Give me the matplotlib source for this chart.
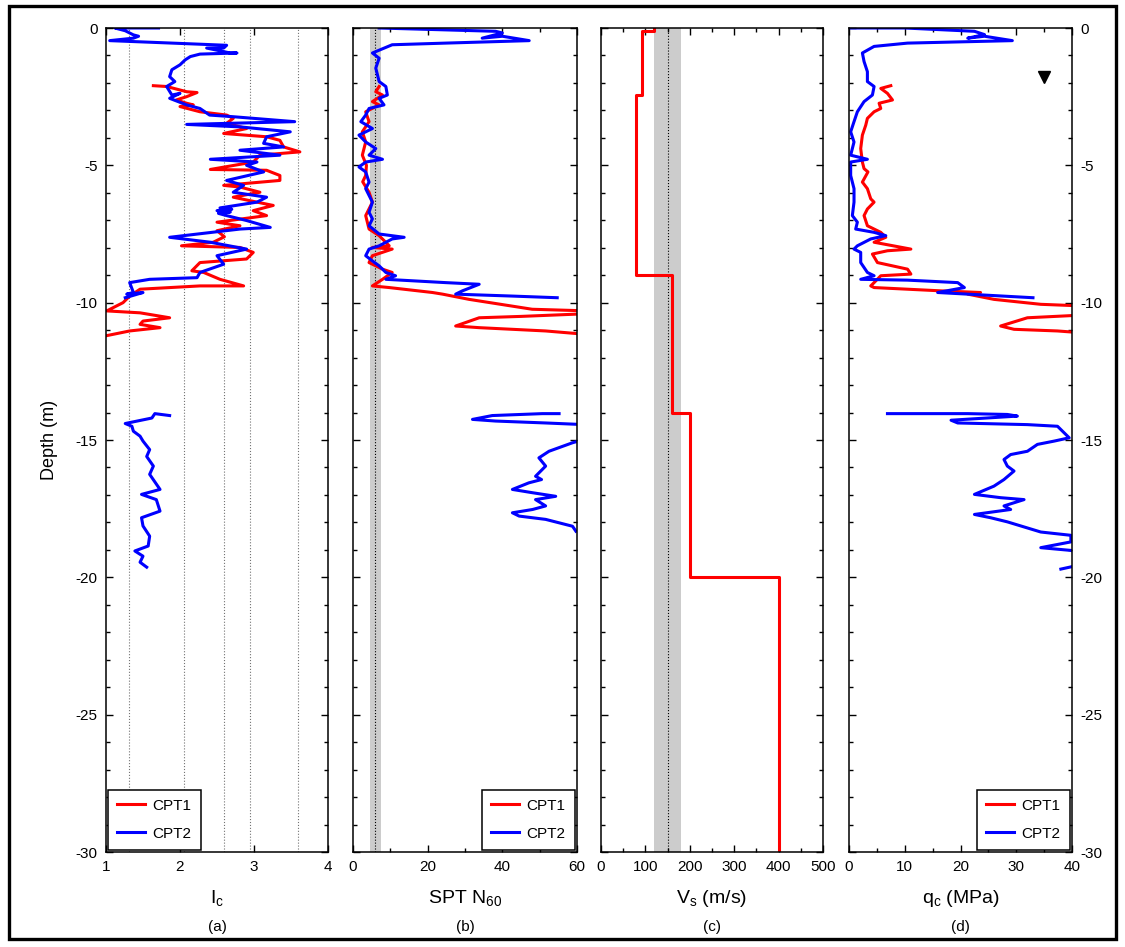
import numpy as np
import matplotlib
matplotlib.use("Agg")
import matplotlib.pyplot as plt
from matplotlib.patches import Rectangle
from matplotlib.ticker import MultipleLocator

plt.rcParams["font.family"] = ["Liberation Sans", "DejaVu Sans"]
plt.rcParams["axes.unicode_minus"] = False
plt.rcParams["mathtext.default"] = "regular"

# (depth m, value) pairs
ic_cpt1 = [(-2.1, 1.64), (-2.13, 1.82), (-2.32, 2.09), (-2.35, 2.23), (-2.5, 2.09), (-2.62, 1.95),
           (-2.74, 2.09), (-2.8, 2.18), (-2.86, 2.0), (-3.05, 2.27), (-3.17, 2.63), (-3.29, 2.72),
           (-3.47, 2.63), (-3.66, 2.9), (-3.84, 2.59), (-3.96, 3.17), (-4.09, 3.35), (-4.33, 3.4),
           (-4.51, 3.62), (-4.63, 3.08), (-4.88, 2.99), (-5.15, 2.41), (-5.18, 3.17), (-5.37, 3.35),
           (-5.55, 3.35), (-5.73, 2.59), (-5.79, 2.81), (-5.98, 3.08), (-6.16, 2.72), (-6.34, 3.04),
           (-6.46, 3.26), (-6.65, 2.99), (-6.83, 3.17), (-7.07, 2.5), (-7.2, 2.81), (-7.38, 2.5),
           (-7.6, 2.6), (-7.8, 2.45), (-7.93, 2.02), (-7.99, 2.81), (-8.17, 2.99), (-8.41, 2.9),
           (-8.54, 2.27), (-8.84, 2.16), (-8.9, 2.32), (-9.15, 2.54), (-9.39, 2.86), (-9.39, 2.27),
           (-9.51, 1.46), (-9.76, 1.32), (-10.0, 1.23), (-10.3, 1.01), (-10.37, 1.46), (-10.55, 1.86),
           (-10.67, 1.5), (-10.79, 1.46), (-10.91, 1.73), (-11.03, 1.32), (-11.2, 1.01)]
ic_cpt2_upper = [(0, 1.71), (0, 1.12), (-0.1, 1.26), (-0.25, 1.37), (-0.3, 1.44), (-0.37, 1.37),
                 (-0.46, 1.05), (-0.59, 2.27), (-0.63, 2.63), (-0.73, 2.59), (-0.73, 2.36),
                 (-0.91, 2.68), (-0.91, 2.77), (-0.95, 2.27), (-1.04, 2.14), (-1.16, 2.07),
                 (-1.34, 2.0), (-1.52, 1.89), (-1.77, 1.86), (-1.95, 1.93), (-2.13, 1.82),
                 (-2.44, 1.89), (-2.38, 2.0), (-2.56, 1.86), (-2.8, 2.09), (-2.93, 2.27),
                 (-3.17, 2.4), (-3.23, 2.72), (-3.41, 3.55), (-3.51, 2.09), (-3.6, 2.81),
                 (-3.78, 3.49), (-3.96, 3.17), (-4.2, 3.13), (-4.33, 3.4), (-4.45, 2.81),
                 (-4.63, 3.35), (-4.78, 2.41), (-4.88, 3.04), (-5.0, 2.9), (-5.24, 3.13),
                 (-5.55, 2.63), (-5.73, 2.86), (-5.98, 2.72), (-6.16, 3.17), (-6.34, 3.04),
                 (-6.55, 2.54), (-6.6, 2.7), (-6.65, 2.5), (-6.7, 2.68), (-6.75, 2.52),
                 (-6.83, 2.63), (-7.01, 2.9), (-7.26, 3.22), (-7.32, 2.81), (-7.62, 1.86),
                 (-7.8, 2.41), (-8.05, 2.9), (-8.29, 2.5), (-8.6, 2.59), (-8.9, 2.27),
                 (-9.09, 2.23), (-9.15, 1.59), (-9.27, 1.32), (-9.63, 1.37), (-9.69, 1.28),
                 (-9.63, 1.5), (-9.82, 1.26)]
ic_cpt2_lower = [(-14.11, 1.86), (-14.04, 1.66), (-14.2, 1.62), (-14.4, 1.26), (-14.5, 1.35),
                 (-14.68, 1.37), (-14.86, 1.46), (-15.04, 1.5), (-15.35, 1.59), (-15.6, 1.55),
                 (-15.95, 1.64), (-16.25, 1.59), (-16.8, 1.73), (-16.98, 1.48), (-17.17, 1.68),
                 (-17.59, 1.73), (-17.83, 1.48), (-18.13, 1.5), (-18.5, 1.59), (-18.86, 1.57),
                 (-19.04, 1.39), (-19.23, 1.5), (-19.45, 1.46), (-19.63, 1.55)]
ic_boundaries = [1.31, 2.05, 2.6, 2.95, 3.6]

n60_cpt1 = [(-2.13, 7), (-2.32, 6.1), (-2.44, 7.9), (-2.68, 5.2), (-2.8, 7), (-3.05, 3.4),
            (-3.41, 4.3), (-3.78, 2.5), (-4.15, 3.4), (-4.63, 2.5), (-5.0, 3.6), (-5.37, 3.4),
            (-5.6, 2.6), (-5.98, 4.3), (-6.34, 5.2), (-6.83, 3.4), (-7.32, 4.3), (-7.56, 7),
            (-7.93, 9.7), (-7.99, 5.2), (-8.05, 10.5), (-8.29, 5.2), (-8.54, 4.3), (-8.78, 7.9),
            (-8.9, 10.5), (-9.15, 7.9), (-9.39, 5.2), (-9.45, 9.7), (-9.63, 21.3), (-9.69, 24),
            (-9.88, 31.1), (-10.24, 48), (-10.3, 63), (-10.4, 63), (-10.5, 45), (-10.55, 33.8),
            (-10.85, 27.5), (-10.91, 33.8), (-11.03, 51.6), (-11.16, 63)]
n60_cpt2_upper = [(0, 7), (-0.12, 38.2), (-0.18, 40), (-0.37, 34.6), (-0.3, 40), (-0.46, 47.2),
                  (-0.55, 24.8), (-0.61, 10.5), (-0.91, 5.2), (-1.1, 7), (-1.46, 6.1), (-1.95, 7),
                  (-2.13, 8.8), (-2.44, 9.2), (-2.56, 7), (-2.8, 8.3), (-2.93, 4.3), (-3.17, 3.4),
                  (-3.41, 2.1), (-3.66, 5.2), (-3.9, 1.6), (-4.15, 3.4), (-4.39, 6.1), (-4.63, 4.3),
                  (-4.78, 7.9), (-4.88, 3.4), (-5.06, 1.6), (-5.24, 3.4), (-5.61, 4.3), (-5.85, 3.4),
                  (-6.34, 5.2), (-6.71, 4.3), (-6.95, 5.2), (-7.2, 4.3), (-7.5, 7), (-7.62, 13.7),
                  (-7.68, 10.5), (-7.93, 7), (-8.05, 4.3), (-8.29, 3.4), (-8.48, 5.2), (-8.66, 7),
                  (-8.9, 8.8), (-9.02, 11.4), (-9.15, 8.8), (-9.27, 24.8), (-9.33, 33.8),
                  (-9.57, 29.3), (-9.69, 27.5), (-9.76, 42.7), (-9.82, 54.7)]
n60_cpt2_lower = [(-14.04, 55.2), (-14.04, 50.7), (-14.11, 37.3), (-14.25, 32), (-14.31, 38.2),
                  (-14.38, 51.6), (-14.44, 62), (-14.98, 62), (-15.1, 58.8), (-15.41, 52.5),
                  (-15.65, 49.8), (-15.95, 51.6), (-16.32, 48.9), (-16.44, 50.5), (-16.56, 47.1),
                  (-16.8, 42.7), (-16.92, 48.1), (-17.05, 54.3), (-17.17, 48.9), (-17.4, 51.6),
                  (-17.53, 48.1), (-17.65, 42.7), (-17.77, 44.5), (-17.89, 51.6), (-18.14, 58.8),
                  (-18.32, 59.7)]
n60_band = (4.5, 7.5)
n60_mean = 6

vs_layer_bottoms = [0.1, 2.45, 9, 14, 20, 30]
vs_values = [119, 93, 78, 160, 200, 400]
vs_band = (120, 180)
vs_mean = 150

qc_cpt1 = [(-2.1, 7.5), (-2.2, 5.7), (-2.38, 6.9), (-2.62, 7.8), (-2.74, 5.4), (-2.93, 5.7),
           (-3.05, 4.5), (-3.29, 3.3), (-3.54, 3), (-3.9, 2.4), (-4.39, 2.1), (-4.88, 2.4),
           (-5.12, 2.7), (-5.24, 3.4), (-5.61, 2.4), (-5.85, 3.3), (-6.22, 3.9), (-6.34, 4.5),
           (-6.59, 3.3), (-6.83, 2.7), (-7.2, 3.3), (-7.44, 5.7), (-7.62, 6.6), (-7.8, 4.5),
           (-8.05, 11.1), (-8.11, 6.9), (-8.23, 4.2), (-8.54, 5.1), (-8.78, 10.5), (-8.96, 11.1),
           (-9.02, 5.7), (-9.27, 4.5), (-9.39, 3.9), (-9.45, 4.5), (-9.57, 16.5), (-9.63, 23.6),
           (-9.69, 21.3), (-9.88, 26), (-10.06, 34.4), (-10.12, 42), (-10.45, 42), (-10.55, 32),
           (-10.85, 27.2), (-10.97, 29.6), (-11.03, 37.4), (-11.1, 42)]
qc_cpt2_upper = [(0, 0), (0, 10), (-0.12, 22.5), (-0.24, 24.3), (-0.37, 21.3), (-0.3, 24.3),
                 (-0.46, 29.3), (-0.55, 10.5), (-0.67, 4.5), (-0.91, 2.4), (-1.22, 2.7),
                 (-1.59, 3.3), (-1.95, 3.3), (-2.13, 4.5), (-2.44, 4.2), (-2.68, 2.7),
                 (-3.05, 1.5), (-3.41, 0.9), (-3.78, 0.3), (-4.15, 0.9), (-4.63, 0.3),
                 (-4.78, 3.3), (-4.88, 0.3), (-5.37, 0.3), (-5.85, 0.9), (-6.34, 0.9),
                 (-6.83, 0.6), (-7.07, 1.5), (-7.32, 1.2), (-7.44, 4.5), (-7.56, 6.6),
                 (-7.68, 3.9), (-7.93, 1.5), (-8.05, 0.9), (-8.17, 2.1), (-8.54, 2.1),
                 (-8.9, 3.3), (-9.02, 4.5), (-9.15, 2.1), (-9.18, 10.5), (-9.27, 19.5),
                 (-9.45, 20.7), (-9.63, 15.9), (-9.69, 21.3), (-9.82, 33)]
qc_cpt2_lower = [(-14.04, 6.9), (-14.04, 21.3), (-14.07, 28.4), (-14.13, 30.2), (-14.28, 18.3),
                 (-14.38, 19.5), (-14.44, 32), (-14.5, 37.4), (-14.74, 38.6), (-14.92, 39.5),
                 (-15.04, 36.8), (-15.16, 33.8), (-15.41, 32), (-15.53, 29), (-15.71, 27.8),
                 (-15.95, 28.4), (-16.13, 29.6), (-16.44, 27.8), (-16.68, 26), (-16.98, 22.5),
                 (-17.1, 27.2), (-17.17, 31.4), (-17.4, 27.8), (-17.53, 29), (-17.71, 22.5),
                 (-17.83, 25.4), (-17.98, 28.4), (-18.35, 34.4), (-18.47, 39.8), (-18.71, 39.8),
                 (-18.92, 34.4), (-19.02, 39.8), (-19.1, 41), (-19.55, 41), (-19.62, 39.8),
                 (-19.7, 38)]
water_table = (35, -1.8)

red = "#ff0000"
blue = "#0000ff"
lw = 2.2

fig = plt.figure(figsize=(11.25, 9.47), dpi=100)
fig.patches.append(Rectangle((9 / 1125, 1 - 939 / 947), 1107 / 1125, 933 / 947,
                             transform=fig.transFigure, fill=False, edgecolor="black",
                             linewidth=2.4, zorder=-1))

bottom, height = 1 - 852 / 947, (852 - 28) / 947
lefts = [106, 353, 601, 849]
widths = [222, 224, 222, 223]
axes = [fig.add_axes([l / 1125, bottom, w / 1125, height]) for l, w in zip(lefts, widths)]


def trace(ax, pairs, color, label=None):
    d, v = np.array(pairs).T
    ax.plot(v, d, color=color, lw=lw, label=label)


# (a) Ic
ax = axes[0]
for b in ic_boundaries:
    ax.axvline(b, color="0.45", lw=0.8, ls=":")
trace(ax, ic_cpt1, red, "CPT1")
trace(ax, ic_cpt2_upper, blue, "CPT2")
trace(ax, ic_cpt2_lower, blue)

# (b) SPT N60
ax = axes[1]
ax.axvspan(*n60_band, color="#cccccc", lw=0)
ax.axvline(n60_mean, color="black", lw=0.8, ls=":")
trace(ax, n60_cpt1, red, "CPT1")
trace(ax, n60_cpt2_upper, blue, "CPT2")
trace(ax, n60_cpt2_lower, blue)

# (c) Vs step profile
ax = axes[2]
ax.axvspan(*vs_band, color="#cccccc", lw=0)
ax.axvline(vs_mean, color="black", lw=0.8, ls=":")
tops = [0] + vs_layer_bottoms[:-1]
vs_y = -np.column_stack([tops, vs_layer_bottoms]).ravel()
vs_x = np.repeat(vs_values, 2)
ax.plot(vs_x, vs_y, color=red, lw=lw)

# (d) qc
ax = axes[3]
trace(ax, qc_cpt1, red, "CPT1")
trace(ax, qc_cpt2_upper, blue, "CPT2")
trace(ax, qc_cpt2_lower, blue)
ax.plot(*water_table, marker="v", color="black", ms=8, ls="none")

xlims = [(1, 4), (0, 60), (0, 500), (0, 40)]
majors = [1, 20, 100, 10]
minors = [None, 10, 50, 5]
for i, ax in enumerate(axes):
    ax.set_xlim(*xlims[i])
    ax.set_ylim(-30, 0)
    ax.xaxis.set_major_locator(MultipleLocator(majors[i]))
    if minors[i]:
        ax.xaxis.set_minor_locator(MultipleLocator(minors[i]))
    ax.yaxis.set_major_locator(MultipleLocator(5))
    ax.yaxis.set_minor_locator(MultipleLocator(1))
    ax.tick_params(which="both", direction="in", top=True, right=True,
                   labelleft=(i == 0), labelright=(i == 3), labelsize=11, width=1)
    ax.tick_params(which="major", length=5, pad=6)
    ax.tick_params(which="minor", length=3)
    for s in ax.spines.values():
        s.set_linewidth(1.1)

for ax, loc in [(axes[0], "lower left"), (axes[1], "lower right"), (axes[3], "lower right")]:
    leg = ax.legend(loc=loc, fontsize=11, fancybox=False, framealpha=1, edgecolor="black",
                    borderaxespad=0.15, handlelength=1.8, handletextpad=0.5,
                    labelspacing=0.9, borderpad=0.6)
    leg.get_frame().set_linewidth(1.1)

xlabels = ["I$_c$", "SPT N$_{60}$", "V$_s$ (m/s)", "q$_c$ (MPa)"]
for ax, lab, tag in zip(axes, xlabels, ["(a)", "(b)", "(c)", "(d)"]):
    pos = ax.get_position()
    cx = (pos.x0 + pos.x1) / 2
    fig.text(cx, 1 - 898 / 947, lab, ha="center", va="center", fontsize=14)
    fig.text(cx, 1 - 927 / 947, tag, ha="center", va="center", fontsize=11)

fig.text(50 / 1125, 1 - 440 / 947, "Depth (m)", rotation=90, ha="center", va="center",
         fontsize=13)

fig.savefig("out.png", dpi=100)
